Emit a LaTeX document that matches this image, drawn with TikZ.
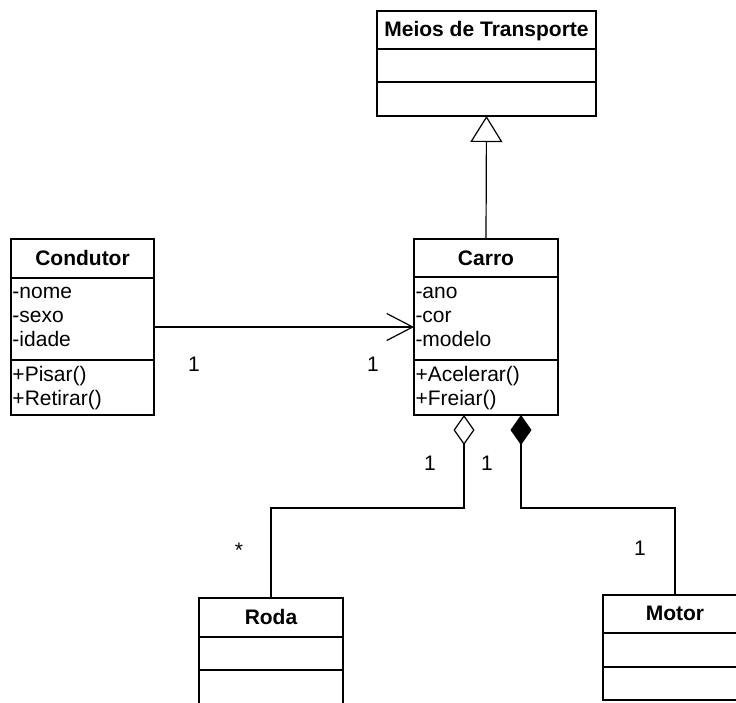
\documentclass[tikz,border=0pt]{standalone}
\usepackage{fontspec}
\setmainfont{Liberation Sans}
\usetikzlibrary{arrows.meta}

\begin{document}
\begin{tikzpicture}[x=1pt, y=-1pt,
  every node/.style={font=\fontsize{21}{24}\selectfont, inner sep=0pt, outer sep=0pt},
  classbox/.style={draw, line width=1.5pt, anchor=north west, minimum width=#1, rectangle},
  classbox/.default=144pt,
  title/.style={anchor=base, font=\fontsize{21}{24}\selectfont\bfseries},
  member/.style={anchor=base west},
  sep/.style={line width=1.5pt},
  link/.style={line width=1.2pt},
  mult/.style={anchor=base},
  assoc/.style={link, -{Straight Barb[length=26pt, width=27pt, line width=1.2pt]}},
  inherit/.style={link, -{Triangle[open, length=26pt, width=32pt, line width=1.2pt, fill=white]}},
  aggr/.style={link, {Diamond[open, length=30pt, width=21pt, line width=1.2pt, fill=white]}-},
  compo/.style={link, {Diamond[length=30pt, width=21pt, line width=1.2pt]}-}
]
\useasboundingbox (0,0) rectangle (736,702);
\clip (0,0) rectangle (736,702);

% ---- class Meios de Transporte ----
\node[classbox=219pt, minimum height=105pt] (meios) at (377,11) {};
\draw[sep] ([yshift=-38pt]meios.north west) -- ([yshift=-38pt]meios.north east);
\draw[sep] ([yshift=-71pt]meios.north west) -- ([yshift=-71pt]meios.north east);
\node[title] (meiosT) at (486.5,36) {Meios de Transporte};

% ---- class Condutor ----
\node[classbox=143pt, minimum height=176pt] (condutor) at (11,239) {};
\draw[sep] ([yshift=-39pt]condutor.north west) -- ([yshift=-39pt]condutor.north east);
\draw[sep] ([yshift=-121pt]condutor.north west) -- ([yshift=-121pt]condutor.north east);
\node[title] (condutorT) at (82.5,265) {Condutor};
\node[member] (cNome)  at (12.5,298) {-nome};
\node[member] (cSexo)  at (12.5,322) {-sexo};
\node[member] (cIdade) at (12.5,346) {-idade};
\node[member] (cPisar) at (12.5,381) {+Pisar()};
\node[member] (cRetir) at (12.5,405) {+Retirar()};

% ---- class Carro ----
\node[classbox=144pt, minimum height=176pt] (carro) at (414,239) {};
\draw[sep] ([yshift=-38pt]carro.north west) -- ([yshift=-38pt]carro.north east);
\draw[sep] ([yshift=-121pt]carro.north west) -- ([yshift=-121pt]carro.north east);
\node[title] (carroT) at (486,265) {Carro};
\node[member] (kAno)    at (415.5,298) {-ano};
\node[member] (kCor)    at (415.5,322) {-cor};
\node[member] (kModelo) at (415.5,346) {-modelo};
\node[member] (kAcel)   at (415.5,381) {+Acelerar()};
\node[member] (kFreiar) at (415.5,405) {+Freiar()};

% ---- class Roda ----
\node[classbox=144pt, minimum height=106pt] (roda) at (199,598) {};
\draw[sep] ([yshift=-39pt]roda.north west) -- ([yshift=-39pt]roda.north east);
\draw[sep] ([yshift=-72pt]roda.north west) -- ([yshift=-72pt]roda.north east);
\node[title] (rodaT) at (271,624) {Roda};

% ---- class Motor ----
\node[classbox=144pt, minimum height=105pt] (motor) at (603,595) {};
\draw[sep] ([yshift=-38pt]motor.north west) -- ([yshift=-38pt]motor.north east);
\draw[sep] ([yshift=-72pt]motor.north west) -- ([yshift=-72pt]motor.north east);
\node[title] (motorT) at (675,620) {Motor};

% ---- relationships ----
\draw[inherit] (carro.north) -- (meios.south);
\draw[assoc] (condutor.east) -- (carro.west);
\draw[aggr] ([xshift=-22pt]carro.south) -- ++(0,93) -| (roda.north);
\draw[compo] ([xshift=35pt]carro.south) -- ++(0,93) -| (motor.north);

% ---- multiplicities ----
\node[mult] (mCondutor) at (194,371) {1};
\node[mult] (mCarro)    at (373,371) {1};
\node[mult] (mAggr)     at (430,470) {1};
\node[mult] (mCompo)    at (487,470) {1};
\node[mult] (mRoda)     at (239,557) {*};
\node[mult] (mMotor)    at (640,555) {1};
\end{tikzpicture}
\end{document}
